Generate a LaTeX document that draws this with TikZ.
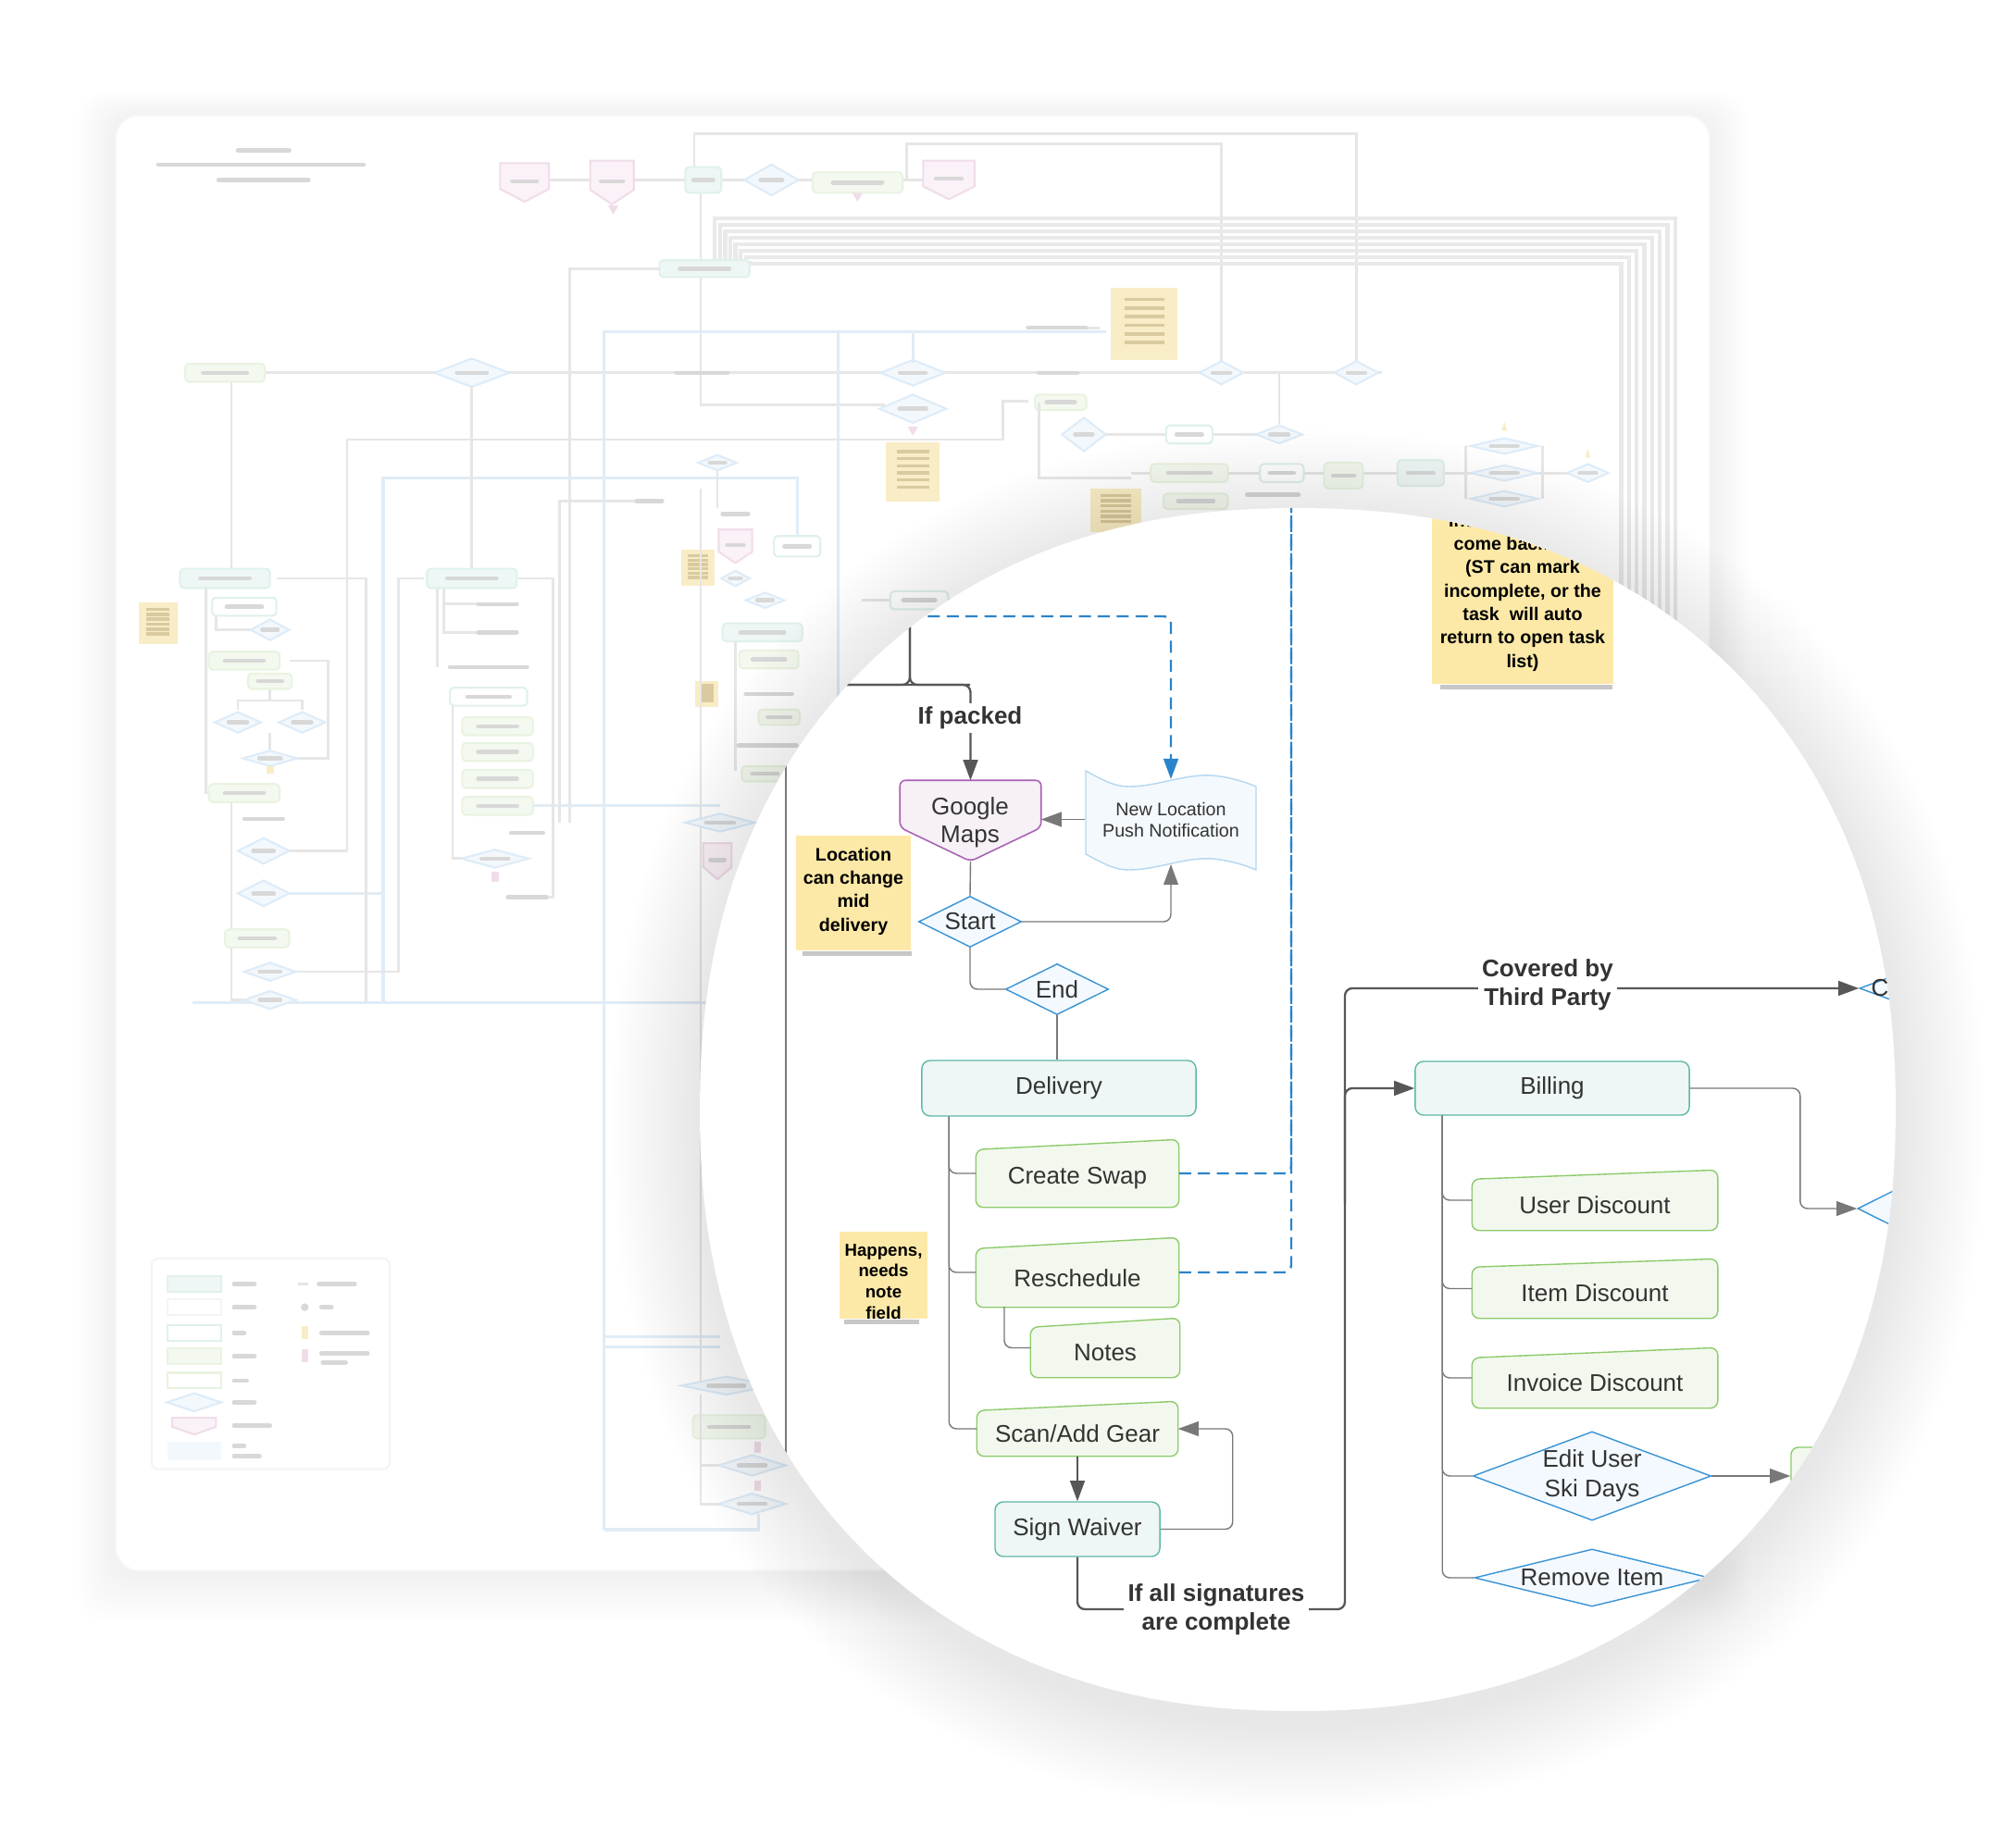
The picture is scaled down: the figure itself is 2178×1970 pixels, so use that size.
\documentclass[tikz,border=0pt]{standalone}
\usepackage{fontspec}
\setmainfont{Liberation Sans}
\usetikzlibrary{arrows.meta,shapes.geometric,calc}

\definecolor{tealD}{HTML}{5DB8A6}
\definecolor{tealF}{HTML}{EEF7F5}
\definecolor{greenD}{HTML}{8DCB6C}
\definecolor{greenF}{HTML}{F3F8EE}
\definecolor{blueD}{HTML}{3A93D4}
\definecolor{blueF}{HTML}{F3F9FE}
\definecolor{purpD}{HTML}{A862B2}
\definecolor{purpF}{HTML}{F7F1F7}
\definecolor{nlD}{HTML}{B3D7F0}
\definecolor{nlF}{HTML}{F4F9FD}
\definecolor{dblue}{HTML}{2A84CA}
\definecolor{cgray}{HTML}{787878}
\definecolor{tgray}{HTML}{575757}
\definecolor{txtc}{HTML}{333333}
\definecolor{stickF}{HTML}{FDE9A7}
\definecolor{bgL}{HTML}{DCDCDC}
\definecolor{bgBand}{HTML}{E0E0E0}
\definecolor{bgBl}{HTML}{D3E4F3}
\definecolor{bgTx}{HTML}{C8C8C8}
\definecolor{bgTealF}{HTML}{E8F4F1}
\definecolor{bgTealD}{HTML}{D3EBE5}
\definecolor{bgGrF}{HTML}{F0F7EA}
\definecolor{bgGrD}{HTML}{E0EFD5}
\definecolor{bgBlF}{HTML}{EFF6FC}
\definecolor{bgBlD}{HTML}{D0E4F5}
\definecolor{bgPkF}{HTML}{F8EDF5}
\definecolor{bgPkD}{HTML}{EBCFE2}
\definecolor{bgYe}{HTML}{F6E6AE}
\definecolor{bgYeT}{HTML}{C9B477}

\newcommand\dMain{\fontsize{7.4pt}{9pt}\selectfont}
\newcommand\dGM{\fontsize{7.4pt}{8.5pt}\selectfont}
\newcommand\dLab{\bfseries\fontsize{7.4pt}{8.8pt}\selectfont}
\newcommand\dNL{\fontsize{5.6pt}{6.8pt}\selectfont}
\newcommand\dStk{\bfseries\fontsize{5.6pt}{7.2pt}\selectfont}
\newcommand\dHap{\bfseries\fontsize{5.3pt}{6.5pt}\selectfont}

% lens outline: a superellipse centred at (1402,1199), radii #1 (x) and #2 (y)
\newcommand\lens[2]{plot[variable=\t, domain=0.5:358.5, samples=180] ({1402+(#1)*cos(\t)*abs(cos(\t))^(-0.0909)}, {1199+(#2)*sin(\t)*abs(sin(\t))^(-0.0909)}) -- cycle}

\tikzset{
  conn/.style={draw=cgray, line width=0.4pt},
  tconn/.style={draw=tgray, line width=0.65pt},
  tri/.style={-{Triangle[length=6.3pt,width=4.5pt]}},
  dashb/.style={draw=dblue, line width=0.65pt, dash pattern=on 3.7pt off 2.1pt},
  frm/.style={rectangle, draw=none, inner sep=0pt},
  txtn/.style={inner sep=0pt, font=\dMain, text=txtc, align=center},
  tealbox/.style={rectangle, draw=tealD, fill=tealF, line width=0.4pt, rounded corners=0.09cm, inner sep=0pt, font=\dMain, text=txtc},
  gshape/.style={draw=greenD, fill=greenF, line width=0.4pt, rounded corners=0.08cm},
  gbox/.style={rectangle, draw=greenD, fill=greenF, line width=0.4pt, rounded corners=0.08cm, inner sep=0pt},
  dia/.style={diamond, draw=blueD, fill=blueF, line width=0.4pt, inner sep=0pt, font=\dMain, text=txtc, align=center},
  gmshape/.style={draw=purpD, fill=purpF, line width=0.45pt, rounded corners=0.06cm},
  nlshape/.style={draw=nlD, fill=nlF, line width=0.4pt},
  elabel/.style={fill=white, inner sep=1.2pt, font=\dLab, text=txtc, align=center},
  sticky/.style={rectangle, fill=stickF, inner sep=0pt},
  stxt/.style={inner sep=0pt, font=\dStk, text=black, align=center},
  stshadow/.style={fill=black, opacity=0.22},
  bgline/.style={draw=bgL, line width=0.8pt},
  bgband/.style={draw=bgBand, line width=1.2pt},
  bgblue/.style={draw=bgBl, line width=0.9pt},
  bgtext/.style={draw=bgTx, line width=1.3pt, line cap=round},
  bgdia/.style={draw=bgBlD, fill=bgBlF, line width=0.6pt},
  bgpent/.style={draw=bgPkD, fill=bgPkF, line width=0.6pt},
  bgteal/.style={draw=bgTealD, fill=bgTealF, line width=0.6pt},
  bggreen/.style={draw=bgGrD, fill=bgGrF, line width=0.6pt},
  bgwhite/.style={draw=bgTealD, fill=white, line width=0.6pt}
}

\newcommand\bgT[3]{\draw[bgtext] ({#1-(#3)/2},#2) -- ({#1+(#3)/2},#2);}
\newcommand\bgB[5]{\draw[#5,rounded corners=1.2pt] ({#1-(#3)/2},{#2-(#4)/2}) rectangle ({#1+(#3)/2},{#2+(#4)/2});\bgT{#1}{#2}{0.55*(#3)}}
\newcommand\bgD[4]{\draw[bgdia] ({#1-(#3)/2},#2) -- (#1,{#2-(#4)/2}) -- ({#1+(#3)/2},#2) -- (#1,{#2+(#4)/2}) -- cycle;\bgT{#1}{#2}{0.4*(#3)}}
\newcommand\bgP[4]{\draw[bgpent] ({#1-(#3)/2},{#2-(#4)/2}) -- ({#1+(#3)/2},{#2-(#4)/2}) -- ({#1+(#3)/2},{#2+(#4)/6}) -- (#1,{#2+(#4)/2}) -- ({#1-(#3)/2},{#2+(#4)/6}) -- cycle;\bgT{#1}{#2-1}{0.5*(#3)}}
\newcommand\bgS[4]{\fill[bgYe] ({#1-(#3)/2},{#2-(#4)/2}) rectangle ({#1+(#3)/2},{#2+(#4)/2});
  \foreach \f in {-0.34,-0.22,-0.1,0.02,0.14,0.26} {\draw[line width=1pt, bgYeT] ({#1-0.3*(#3)},{#2+\f*(#4)}) -- ({#1+0.3*(#3)},{#2+\f*(#4)});}}

\newcommand\gbx[7]{%
  \node[frm, minimum width=#4, minimum height=#5] (#1) at (#2,#3) {};
  \draw[gshape] (#1.south west) -- ($(#1.north west)+(0,#6)$) -- (#1.north east) -- (#1.south east) -- cycle;
  \node[txtn] (#1t) at ($(#1.center)+(0,#6/2)$) {#7};}

\begin{document}
\begin{tikzpicture}[x=0.01cm,y=-0.01cm]
\useasboundingbox (0,0) rectangle (2178,1970);
\fill[white] (0,0) rectangle (2178,1970);

% ---------- background card ----------
\foreach \i in {1,...,14} {\fill[black,opacity=0.0035,rounded corners=0.3cm] ({125-3*\i},{128-2*\i}) rectangle ({1847+3*\i},{1697+4*\i});}
\fill[white, rounded corners=0.25cm] (125,125) rectangle (1847,1697);
\draw[black!3, rounded corners=0.25cm, line width=0.6pt] (125,125) rectangle (1847,1697);

% ---------- blurred background diagram (reduced coordinates) ----------
\begin{scope}[scale=1.389]
  % title
  \bgT{205}{117}{40} \bgT{203}{128}{160} \bgT{205}{140}{70}
  % frame lines at top
  \draw[bgline] (540,140) -- (540,104) -- (1055,104) -- (1055,282);
  \draw[bgline] (705,140) -- (705,112) -- (950,112) -- (950,282);
  \draw[bgline] (545,150) -- (545,315) -- (688,315);
  % band of parallel lines
  \foreach \i in {0,...,7} {\draw[bgband] ({556+4*\i},203) -- ({556+4*\i},{170+5*\i}) -- ({1303-6*\i},{170+5*\i}) -- ({1303-6*\i},560);}
  % top row
  \draw[bgline] (425,140) -- (720,140);
  \bgP{408}{142}{38}{30}
  \bgP{476}{142}{34}{34}
  \bgB{547}{140}{28}{20}{bgteal}
  \bgD{600}{140}{42}{24}
  \bgB{667}{142}{70}{16}{bggreen}
  \bgP{738}{140}{40}{30}
  \fill[bgPkD] (473,160) -- (481,160) -- (477,167) -- cycle;
  \fill[bgPkD] (663,150) -- (671,150) -- (667,157) -- cycle;
  % dashboard
  \bgB{548}{209}{70}{13}{bgteal}
  \draw[bgline] (513,209) -- (443,209) -- (443,640);
  % main row
  \draw[bgline] (205,290) -- (1075,290);
  \bgB{175}{290}{62}{14}{bggreen}
  \bgD{367}{290}{58}{22}
  \bgT{546}{290}{40}
  \bgD{710}{290}{50}{20}
  \bgT{823}{290}{30}
  \bgD{950}{290}{34}{18}
  \bgD{1055}{290}{34}{18}
  \bgD{710}{318}{52}{22}
  \fill[bgPkD] (706,332) -- (714,332) -- (710,339) -- cycle;
  % blue lines
  \draw[bgblue] (470,1190) -- (470,258) -- (860,258);
  \draw[bgblue] (652,258) -- (652,640);
  \draw[bgblue] (710,258) -- (710,282);
  \draw[bgblue] (298,780) -- (298,372) -- (620,372) -- (620,418);
  \draw[bgblue] (150,780) -- (560,780);
  \draw[bgblue] (470,1040) -- (560,1040);
  \draw[bgblue] (470,1048) -- (560,1048);
  \draw[bgblue] (470,1190) -- (590,1190) -- (590,1178);
  \draw[bgblue] (225,695) -- (298,695);
  \draw[bgblue] (415,627) -- (560,627);
  % stickies
  \bgS{890}{252}{52}{56}
  \bgS{710}{367}{42}{46}
  \bgS{868}{397}{40}{34}
  \bgS{123}{485}{30}{32}
  \bgS{543}{442}{26}{28}
  \bgS{550}{540}{18}{20}
  % grey lines
  \draw[bgline] (180,297) -- (180,443);
  \draw[bgline] (367,300) -- (367,443);
  \draw[bgline] (270,662) -- (270,342) -- (780,342) -- (780,312) -- (800,312);
  \draw[bgline] (500,390) -- (435,390) -- (435,640);
  \draw[bgline] (800,255) -- (855,255);
  \bgT{822}{255}{45}
  % right cluster
  \bgB{825}{313}{40}{12}{bggreen}
  \draw[bgline] (808,313) -- (808,372) -- (880,372);
  \bgD{843}{338}{34}{26}
  \draw[bgline] (860,338) -- (1010,338);
  \draw[bgline] (995,290) -- (995,330);
  \bgB{925}{338}{36}{14}{bgwhite}
  \bgD{995}{338}{36}{14}
  \draw[bgline] (880,368) -- (1250,368);
  \bgB{925}{368}{60}{14}{bggreen}
  \bgB{997}{368}{34}{14}{bgwhite}
  \bgB{1045}{370}{30}{20}{bggreen}
  \bgB{1105}{368}{36}{20}{bgteal}
  \draw[bgline] (1140,347) -- (1140,388);
  \draw[bgline] (1200,347) -- (1200,388);
  \bgD{1170}{347}{52}{12} \bgD{1170}{368}{52}{12} \bgD{1170}{388}{52}{12}
  \bgD{1235}{368}{32}{14}
  \bgB{930}{390}{50}{12}{bggreen}
  \bgT{990}{385}{40}
  \fill[bgYe] (1168,335) -- (1172,335) -- (1170,328) -- cycle;
  \fill[bgYe] (1233,356) -- (1237,356) -- (1235,349) -- cycle;
  % left column
  \bgB{175}{450}{70}{15}{bgteal}
  \draw[bgline] (160,457) -- (160,617) -- (170,617);
  \draw[bgline] (215,450) -- (285,450) -- (285,780);
  \draw[bgline] (168,479) -- (168,490) -- (195,490);
  \draw[bgline] (185,552) -- (185,545) -- (235,545) -- (235,552);
  \draw[bgline] (210,536) -- (210,545);
  \draw[bgline] (210,570) -- (210,584);
  \draw[bgline] (225,514) -- (255,514) -- (255,590) -- (231,590);
  \draw[bgline] (180,625) -- (180,778) -- (190,778);
  \draw[bgline] (228,756) -- (310,756) -- (310,450) -- (330,450);
  \draw[bgline] (225,662) -- (270,662);
  \bgB{190}{472}{50}{14}{bgwhite}
  \bgD{210}{490}{30}{16}
  \bgB{190}{514}{55}{14}{bggreen}
  \bgB{210}{530}{34}{12}{bggreen}
  \bgD{185}{562}{36}{16} \bgD{235}{562}{36}{16}
  \bgD{210}{590}{42}{12}
  \fill[bgYe] (207,596) rectangle (213,602);
  \bgB{190}{617}{55}{14}{bggreen}
  \bgT{205}{637}{30}
  \bgD{205}{662}{40}{20}
  \bgD{205}{695}{40}{20}
  \bgB{200}{730}{50}{14}{bggreen}
  \bgD{210}{756}{40}{14}
  \bgD{210}{778}{40}{14}
  % middle column
  \bgB{367}{450}{70}{15}{bgteal}
  \draw[bgline] (345,458) -- (345,492) -- (372,492);
  \draw[bgline] (345,470) -- (372,470);
  \draw[bgline] (340,458) -- (340,519);
  \draw[bgline] (352,549) -- (352,668) -- (360,668);
  \draw[bgline] (403,450) -- (430,450) -- (430,698) -- (420,698);
  \bgT{387}{470}{30} \bgT{387}{492}{30}
  \bgT{380}{519}{60}
  \bgB{380}{542}{60}{14}{bgwhite}
  \bgB{387}{565}{55}{14}{bggreen}
  \bgB{387}{585}{55}{14}{bggreen}
  \bgB{387}{606}{55}{14}{bggreen}
  \bgB{387}{627}{55}{14}{bggreen}
  \bgD{385}{668}{52}{14}
  \fill[bgPkD] (382,678) rectangle (388,686);
  \bgT{410}{648}{25}
  \bgT{410}{698}{30}
  % right column
  \bgD{558}{360}{30}{12}
  \draw[bgline] (558,366) -- (558,395);
  \bgT{505}{390}{20}
  \bgT{572}{400}{20}
  \bgP{572}{425}{26}{26}
  \bgB{620}{425}{36}{16}{bgwhite}
  \bgD{572}{450}{22}{12}
  \bgD{595}{467}{30}{12}
  \draw[bgline] (670,467) -- (740,467);
  \bgB{715}{467}{45}{14}{bgwhite}
  \bgB{593}{492}{62}{14}{bgteal}
  \draw[bgline] (572,499) -- (572,600);
  \bgB{598}{513}{46}{14}{bggreen}
  \bgT{598}{540}{36}
  \bgB{606}{558}{32}{12}{bggreen}
  \bgT{597}{580}{45}
  \bgB{595}{602}{36}{12}{bggreen}
  \draw[bgline] (545,380) -- (545,1075);
  \bgD{560}{640}{54}{14}
  \bgP{558}{670}{22}{28}
  % bottom
  \bgD{565}{1078}{70}{14}
  \bgB{567}{1110}{56}{18}{bggreen}
  \draw[bgline] (545,1085) -- (545,1170) -- (560,1170);
  \draw[bgline] (545,1140) -- (560,1140);
  \bgD{585}{1140}{52}{16}
  \bgD{585}{1170}{52}{16}
  \fill[bgPkD] (587,1122) rectangle (592,1130);
  \fill[bgPkD] (587,1152) rectangle (592,1160);
  % legend
  \draw[draw=black!6, fill=white, rounded corners=2pt, line width=0.6pt] (118,979) rectangle (303,1143);
  \draw[bgteal] (130,993) rectangle (172,1005);
  \draw[draw=black!6, fill=white, line width=0.6pt] (130,1011) rectangle (172,1023);
  \draw[bgwhite] (130,1031) rectangle (172,1043);
  \draw[bggreen] (130,1049) rectangle (172,1061);
  \draw[draw=bgGrD, fill=white, line width=0.6pt] (130,1068) rectangle (172,1080);
  \draw[bgdia] (130,1091) -- (151,1084) -- (172,1091) -- (151,1098) -- cycle;
  \draw[bgpent] (134,1103) -- (168,1103) -- (168,1110) -- (151,1116) -- (134,1110) -- cycle;
  \fill[bgBlF] (130,1122) rectangle (172,1136);
  \bgT{190}{999}{16} \bgT{190}{1017}{16} \bgT{186}{1037}{8} \bgT{190}{1055}{16}
  \bgT{187}{1074}{10} \bgT{190}{1091}{16} \bgT{196}{1109}{28} \bgT{186}{1125}{8} \bgT{192}{1133}{20}
  \draw[bgline] (232,999) -- (240,999);
  \fill[bgTx] (237,1017) circle[radius=0.03cm];
  \fill[bgYe] (235,1032) rectangle (240,1042);
  \fill[bgPkD] (235,1050) rectangle (240,1060);
  \bgT{262}{999}{28} \bgT{254}{1017}{8} \bgT{268}{1037}{36} \bgT{268}{1053}{36} \bgT{260}{1060}{18}
\end{scope}
% wash the background out
\fill[white, opacity=0.3, rounded corners=0.25cm] (125,125) rectangle (1847,1697);

% ---------- lens shadow and lens ----------
\foreach \i in {1,...,24} {\fill[black,opacity=0.004, yshift=-0.12cm] \lens{646+4*\i}{650+4*\i};}
\fill[white] \lens{646}{650};

\begin{scope}
\clip \lens{646}{650};

% pass-through line at left
\coordinate (pa) at (849,600);
\coordinate (pb) at (849,1800);
\draw[conn] (pa) -- (pb);

% Google Maps
\node[frm, minimum width=1.51cm, minimum height=0.86cm] (gm) at (1048.5,887) {};
\draw[gmshape] (gm.north west) -- (gm.north east) -- ($(gm.north east)+(0,51)$) -- (gm.south) -- ($(gm.north west)+(0,51)$) -- cycle;
\node[txtn, font=\dGM] (gmt) at (1048,889) {Google\\Maps};

% junction and "If packed"
\coordinate (jt) at (983,600);
\coordinate (jl) at (850,740);
\coordinate (jm) at (1048,740);
\draw[tconn, rounded corners=0.08cm] (jt) |- (jl);
\draw[tconn, rounded corners=0.08cm] (jt) |- (jm);
\draw[tconn, tri, rounded corners=0.08cm] (jl) -| (gm.north);
\node[elabel] (ifp) at (1048,776) {If packed};

% New Location Push Notification
\node[frm, minimum width=1.84cm, minimum height=1.05cm] (nl) at (1265,885.5) {};
\draw[nlshape] (1173,833) .. controls (1195,845) and (1205,850) .. (1220,850) .. controls (1250,850) and (1280,836) .. (1310,838) .. controls (1330,840) and (1345,845) .. (1357,850) -- (1357,940) .. controls (1345,935) and (1330,930) .. (1310,928) .. controls (1280,926) and (1250,940) .. (1220,940) .. controls (1205,940) and (1195,935) .. (1173,923) -- cycle;
\node[txtn, font=\dNL] (nlt) at (1265,886) {New Location\\Push Notification};
\draw[conn, line width=0.5pt, tri] (nl.west) -- (nl.west -| gm.east);

% dashed arrow into New Location
\coordinate (ds) at (880,666);
\coordinate (nltop) at (1265,842);
\draw[dashb, tri, rounded corners=0.08cm] (ds) -| (nltop);

% Start / End
\node[dia, aspect=2.02, minimum width=1.11cm, minimum height=0.55cm] (st) at (1048,996) {Start};
\node[dia, aspect=2.02, minimum width=1.11cm, minimum height=0.55cm] (en) at (1142,1069) {End};
\draw[conn] (gm.south) -- (st.north);
\coordinate (nlb) at (1265,934);
\draw[conn, tri, rounded corners=0.08cm] (st.east) -| (nlb);
\draw[conn, rounded corners=0.08cm] (st.south) |- (en.west);

% Location sticky
\node[sticky, minimum width=1.24cm, minimum height=1.24cm] (loc) at (922,965) {};
\node[stxt] (loct) at (922,963) {Location\\can change\\mid\\delivery};
\fill[stshadow] ($(loc.south west)+(8,0)$) rectangle ($(loc.south east)+(0,5)$);

% Delivery
\node[tealbox, minimum width=2.96cm, minimum height=0.60cm] (dl) at (1144,1176) {Delivery};
\draw[conn] (en.south) -- (en.south |- dl.north);

\gbx{cs}{1164}{1268}{2.18cm}{0.72cm}{11}{Create Swap}
\gbx{rs}{1164}{1375}{2.18cm}{0.74cm}{12}{Reschedule}
\gbx{nt}{1194}{1456.5}{1.60cm}{0.63cm}{10}{Notes}
\gbx{sg}{1164}{1544}{2.16cm}{0.58cm}{10}{Scan/Add Gear}

\coordinate (dt) at ($(dl.south west)+(30,0)$);
\draw[conn, rounded corners=0.08cm] (dt) |- (cs.west);
\draw[conn, rounded corners=0.08cm] (dt) |- (rs.west);
\draw[conn, rounded corners=0.08cm] (dt) |- (sg.west);
\coordinate (rt) at (1085,1412);
\draw[conn, rounded corners=0.08cm] (rt) |- (nt.west);

% dashed lines going up
\coordinate (dtop) at (1395,480);
\draw[dashb, rounded corners=0.08cm] (cs.east) -| (dtop);
\draw[dashb, rounded corners=0.08cm] (rs.east) -| (dtop);

% Happens sticky
\node[sticky, minimum width=0.95cm, minimum height=0.94cm] (hap) at (954.5,1378) {};
\node[stxt, font=\dHap] (hapt) at (954.5,1385) {Happens,\\needs\\note\\field};
\fill[stshadow] ($(hap.south west)+(6,0)$) rectangle ($(hap.south east)+(-10,5)$);

% Sign Waiver
\node[tealbox, minimum width=1.78cm, minimum height=0.59cm] (sw) at (1164,1652.5) {Sign Waiver};
\draw[tconn, tri] (sg.south) -- (sw.north);
\draw[conn, tri, rounded corners=0.08cm] (sw.east) -- ++(78,0) |- (sg.east);

% Billing
\node[tealbox, minimum width=2.96cm, minimum height=0.58cm] (bl) at (1677,1176) {Billing};
\gbx{ud}{1723}{1297}{2.64cm}{0.64cm}{10}{User Discount}
\gbx{idc}{1723}{1392.5}{2.64cm}{0.63cm}{9}{Item Discount}
\gbx{iv}{1723}{1489}{2.64cm}{0.64cm}{11}{Invoice Discount}
\node[dia, aspect=2.68, minimum width=2.57cm, minimum height=0.96cm] (eu) at (1720,1595) {Edit User\\Ski Days};
\node[dia, aspect=4.1, minimum width=2.54cm, minimum height=0.62cm] (ri) at (1720,1705) {Remove Item};

\coordinate (bt) at ($(bl.south west)+(30,0)$);
\draw[conn, rounded corners=0.08cm] (bt) |- (ud.west);
\draw[conn, rounded corners=0.08cm] (bt) |- (idc.west);
\draw[conn, rounded corners=0.08cm] (bt) |- (iv.west);
\draw[conn, rounded corners=0.08cm] (bt) |- (eu.west);
\draw[conn, rounded corners=0.08cm] (bt) |- (ri.west);

% shapes cut by the lens at the right
\node[dia, aspect=2.7, minimum width=2.5cm, minimum height=0.92cm] (cod) at (2134,1068) {};
\node[txtn, anchor=west] (codt) at (2021,1068) {Co};
\node[dia, aspect=2, minimum width=2cm, minimum height=1cm] (d2) at (2107,1306) {};
\node[gbox, minimum width=2cm, minimum height=0.62cm] (gb) at (2035,1595) {};

\draw[conn, tri, rounded corners=0.08cm] (bl.east) -- ++(119,0) |- (d2.west);
\draw[conn, tri] (eu.east) -- (gb.west);

% main thick path from Sign Waiver
\coordinate (vb) at (1453,1739);
\coordinate (vbb) at (1453,1300);
\draw[tconn, tri, rounded corners=0.08cm] (sw.south) |- (vb) |- (cod.west);
\draw[tconn, tri, rounded corners=0.08cm] (vbb) |- (bl.west);
\node[elabel] (lab1) at (1314,1739) {If all signatures\\are complete};
\node[elabel] (lab2) at (1672,1064) {Covered by\\Third Party};

% top-right sticky
\node[sticky, minimum width=1.96cm, minimum height=2.39cm] (trs) at (1645,619.5) {};
\node[stxt] (trst) at (1645,640) {Incomplete tasks\\come back later\\(ST can mark\\incomplete, or the\\task\ \ will auto\\return to open task\\list)};
\fill[stshadow] ($(trs.south west)+(10,0)$) rectangle ($(trs.south east)+(-2,5)$);
\end{scope}
\end{tikzpicture}
\end{document}
